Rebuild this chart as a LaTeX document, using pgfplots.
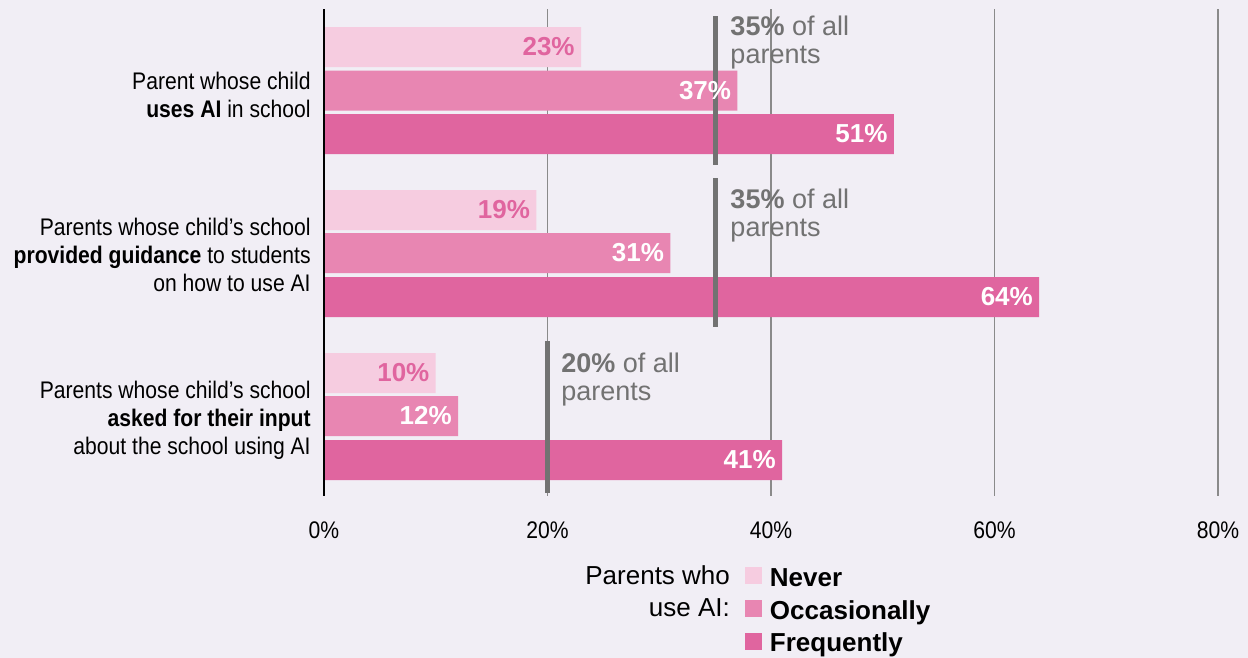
\documentclass[border=0pt]{standalone}
\usepackage{pgfplots}
\usepackage{pgfplotstable}
\pgfplotsset{compat=1.18}
\usepackage{fontspec}
\setmainfont{Liberation Sans}
\newfontfamily\condfont[FakeStretch=0.88]{Liberation Sans}
\usetikzlibrary{backgrounds}
\definecolor{bgc}{HTML}{F1EEF5}
\definecolor{cnever}{HTML}{F6CCE0}
\definecolor{cocc}{HTML}{E886B2}
\definecolor{cfreq}{HTML}{E0659F}
\definecolor{refg}{HTML}{727272}
\definecolor{gridg}{HTML}{8A8A8A}
% value (%), bar centre position
\pgfplotstableread{
val pos
23 47
19 210
10 373
}\never
\pgfplotstableread{
val pos
37 90.5
31 253
12 416
}\occ
\pgfplotstableread{
val pos
51 134
64 297
41 460
}\freq
\pgfplotsset{
  barbase/.style={xbar, bar width=20pt, bar shift=0pt, draw=none},
  mybar/.style={barbase, fill=#1},
  mylab/.style={barbase, fill=none, forget plot, point meta=x,
    nodes near coords={\pgfmathprintnumber[assume math mode=true]{\pgfplotspointmeta}\%},
    every node near coord/.append style={anchor=east, inner sep=0pt, xshift=-3pt, font=\fontsize{13}{15}\selectfont\bfseries, #1}},
}
\begin{document}
\begin{tikzpicture}
\begin{axis}[
  x=5.5875pt, y=0.5pt, y dir=reverse,
  xmin=0, xmax=80, ymin=9, ymax=496,
  clip=false,
  axis line style={draw=none},
  major tick length=0pt,
  ytick=\empty,
  xtick={0,20,40,60,80},
  xticklabels={0\%,20\%,40\%,60\%,80\%},
  xticklabel style={font=\condfont\fontsize{12}{14}\selectfont, anchor=base, yshift=-21pt},
  xmajorgrids, grid style={gridg, line width=0.6pt},
  legend style={at={(axis cs:37.67,567)}, anchor=north west, draw=none, fill=none, inner sep=0pt, outer sep=0pt, row sep=3.75pt, column sep=4pt, font=\fontsize{13}{15}\selectfont\bfseries, nodes={inner sep=0pt, text height=9.5pt, text depth=3pt}},
  legend cell align=left,
  legend image code/.code={\fill[#1, draw=none] (0pt,-2.1pt) rectangle (8.5pt,6.4pt);},
]
\coordinate (bl) at (axis cs:-28.993,658);
\coordinate (tr) at (axis cs:82.685,0);
\addplot[mybar=cnever] table[x=val, y=pos] {\never};
\addlegendentry{Never}
\addplot[mybar=cocc] table[x=val, y=pos] {\occ};
\addlegendentry{Occasionally}
\addplot[mybar=cfreq] table[x=val, y=pos] {\freq};
\addlegendentry{Frequently}
% reference lines: share among all parents
\addplot[forget plot, no marks, refg, line width=2.5pt] coordinates {(35,16) (35,165)};
\addplot[forget plot, no marks, refg, line width=2.5pt] coordinates {(35,178) (35,327)};
\addplot[forget plot, no marks, refg, line width=2.5pt] coordinates {(20,341) (20,493)};
% value labels on top
\addplot[mylab=cfreq] table[x=val, y=pos] {\never};
\addplot[mylab=white] table[x=val, y=pos] {\occ};
\addplot[mylab=white] table[x=val, y=pos] {\freq};
\draw[black, line width=1.3pt] (axis cs:0,9) -- (axis cs:0,496);
% annotations
\begin{scope}[every node/.style={refg, inner sep=0pt, anchor=base west, font=\fontsize{13.5}{15}\selectfont}]
\node at (axis cs:36.34,35.5) {\bfseries 35\%\mdseries\ of all};
\node at (axis cs:36.34,63.5) {parents};
\node at (axis cs:36.34,208.5) {\bfseries 35\%\mdseries\ of all};
\node at (axis cs:36.34,236.5) {parents};
\node at (axis cs:21.2,372.5) {\bfseries 20\%\mdseries\ of all};
\node at (axis cs:21.2,400.5) {parents};
\end{scope}
% category labels
\begin{scope}[every node/.style={black, inner sep=0pt, anchor=base east, font=\condfont\fontsize{12}{14}\selectfont}]
\node at (axis cs:-1.16,89.5) {Parent whose child};
\node at (axis cs:-1.16,117.5) {{\bfseries uses AI} in school};
\node at (axis cs:-1.16,235) {Parents whose child’s school};
\node at (axis cs:-1.16,263) {{\bfseries provided guidance} to students};
\node at (axis cs:-1.16,291) {on how to use AI};
\node at (axis cs:-1.16,398) {Parents whose child’s school};
\node at (axis cs:-1.16,426) {{\bfseries asked for their input}};
\node at (axis cs:-1.16,454) {about the school using AI};
\end{scope}
% legend title
\begin{scope}[every node/.style={black, inner sep=0pt, anchor=base east, font=\fontsize{13}{15}\selectfont}]
\node at (axis cs:36.36,584) {Parents who};
\node at (axis cs:36.36,616) {use AI:};
\end{scope}
\end{axis}
\begin{pgfonlayer}{background}
\fill[bgc] (bl) rectangle (tr);
\end{pgfonlayer}
\pgfresetboundingbox
\useasboundingbox (bl) rectangle (tr);
\end{tikzpicture}
\end{document}
